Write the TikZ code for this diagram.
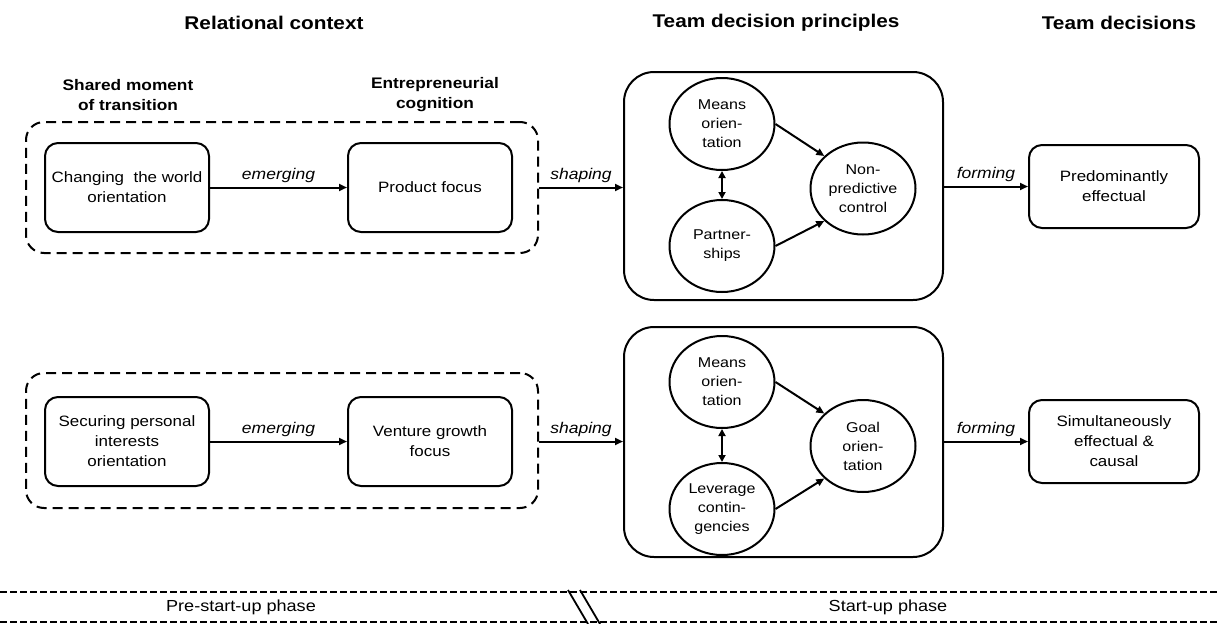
\documentclass[tikz,border=0pt]{standalone}
\usepackage{fontspec}
\setmainfont[FakeStretch=1.13]{Liberation Sans}
\usetikzlibrary{arrows.meta,shapes.geometric}
\begin{document}
\begin{tikzpicture}[x=1pt,y=-1pt,
  box/.style={draw,line width=2pt,rounded corners=13pt,minimum width=164pt,minimum height=89pt,inner sep=0pt,align=center,font=\fontsize{15}{20}\selectfont},
  result/.style={box,minimum width=170pt,minimum height=83pt},
  group/.style={draw,line width=2pt,dash pattern=on 10pt off 6pt,rounded corners=18pt,inner sep=0pt,minimum width=512pt},
  panel/.style={draw,line width=2pt,rounded corners=30pt,inner sep=0pt,minimum width=319pt},
  oval/.style={draw,ellipse,line width=2pt,minimum width=105pt,minimum height=92pt,inner sep=0pt,align=center,font=\fontsize{14.2}{19}\selectfont},
  link/.style={line width=2pt,-{Triangle[length=8pt,width=7pt]}},
  both/.style={line width=2pt,{Triangle[length=7pt,width=7pt]}-{Triangle[length=7pt,width=7pt]}},
  title/.style={font=\bfseries\fontsize{18.4}{22}\selectfont},
  subtitle/.style={align=center,font=\bfseries\fontsize{15.3}{20}\selectfont},
  verb/.style={font=\itshape\fontsize{15.5}{18}\selectfont,above,inner sep=4pt},
  phase/.style={font=\fontsize{16}{19}\selectfont},
  bar/.style={line width=1.8pt,dash pattern=on 7pt off 3pt}]
\useasboundingbox (0,0) rectangle (1219,624);

% column headings
\node[title] (hctx) at (274,23) {Relational context};
\node[title] (hpri) at (776,23) {Team decision principles};
\node[title] (hdec) at (1119,23) {Team decisions};
\node[subtitle] (hshared) at (128,95) {Shared moment\\of transition};
\node[subtitle] (hcog) at (435,95) {Entrepreneurial\\cognition};

% upper path
\node[group,minimum height=131pt] (grpA) at (282,187.5) {};
\node[box] (chg) at (127,187.5) {Changing\ \ the world\\orientation};
\node[box] (prod) at (430,187.5) {Product focus};
\node[panel,minimum height=228pt] (panA) at (783.5,186) {};
\node[oval] (meansA) at (722,124) {Means\\orien-\\tation};
\node[oval] (partA) at (722,246) {Partner-\\ships};
\node[oval] (npc) at (863,188.5) {Non-\\predictive\\control};
\node[result] (pred) at (1114,186.5) {Predominantly\\effectual};

\draw[link] (chg) -- node[verb] {emerging} (prod);
\draw[link] (grpA.east) -- node[verb] {shaping} (grpA.east -| panA.west);
\draw[both] (meansA) -- (partA);
\draw[link] (meansA.east) -- (npc.140);
\draw[link] (partA.east) -- (npc.220);
\draw[link] (pred.west -| panA.east) -- node[verb] {forming} (pred.west);

% lower path
\node[group,minimum height=135pt] (grpB) at (282,440.5) {};
\node[box] (sec) at (127,441.5) {Securing personal\\interests\\orientation};
\node[box] (ven) at (430,441.5) {Venture growth\\focus};
\node[panel,minimum height=230pt] (panB) at (783.5,442) {};
\node[oval] (meansB) at (722,382) {Means\\orien-\\tation};
\node[oval] (lev) at (722,509) {Leverage\\contin-\\gencies};
\node[oval] (goal) at (863,446) {Goal\\orien-\\tation};
\node[result] (sim) at (1114,441.5) {Simultaneously\\effectual \&\\causal};

\draw[link] (sec) -- node[verb] {emerging} (ven);
\draw[link] (sec -| grpB.east) -- node[verb] {shaping} (sec -| panB.west);
\draw[both] (meansB) -- (lev);
\draw[link] (meansB.east) -- (goal.140);
\draw[link] (lev.east) -- (goal.220);
\draw[link] (sim.west -| panB.east) -- node[verb] {forming} (sim.west);

% phase bar
\draw[bar] (0,592) -- (1219,592);
\draw[bar] (0,622) -- (1219,622);
\draw[line width=1.8pt] (568,590) -- (588,624);
\draw[line width=1.8pt] (580,590) -- (600,624);
\node[phase] (pre) at (241,607) {Pre-start-up phase};
\node[phase] (start) at (888,607) {Start-up phase};
\end{tikzpicture}
\end{document}
